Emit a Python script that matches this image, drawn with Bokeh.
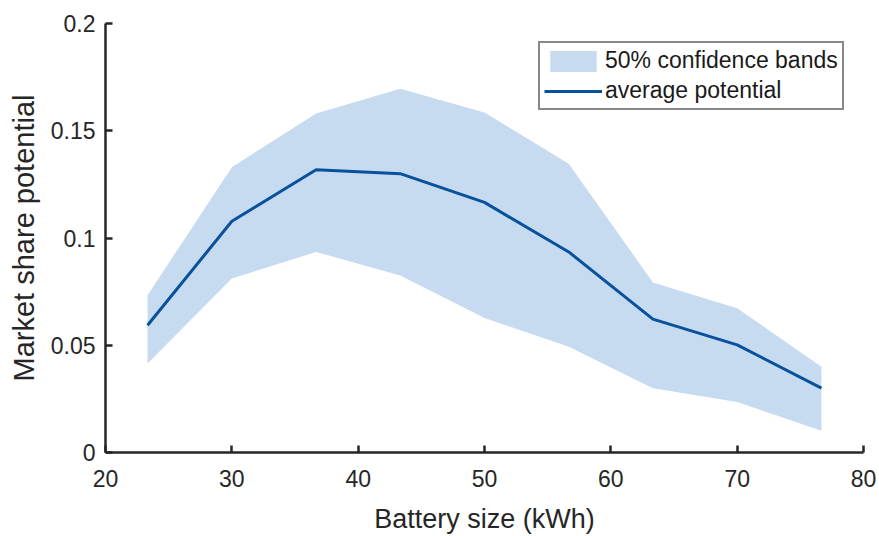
from bokeh.plotting import figure
from bokeh.models import Range1d, FixedTicker, CustomJSTickFormatter, Legend, LegendItem, ColumnDataSource
from bokeh.embed import file_html
from bokeh.resources import INLINE

# Data
battery_kwh = [23.33, 30.0, 36.67, 43.33, 50.0, 56.67, 63.33, 70.0, 76.67]
avg_potential = [0.0593, 0.1078, 0.1318, 0.1300, 0.1166, 0.0935, 0.0622, 0.0502, 0.0300]
band_upper = [0.0733, 0.1330, 0.1580, 0.1696, 0.1585, 0.1346, 0.0793, 0.0673, 0.0400]
band_lower = [0.0415, 0.0811, 0.0935, 0.0825, 0.0627, 0.0493, 0.0300, 0.0235, 0.0101]
x_ticks = [20, 30, 40, 50, 60, 70, 80]
y_ticks = [0, 0.05, 0.1, 0.15, 0.2]

FONT = "Liberation Sans"
TXT = "#262626"

src = ColumnDataSource(dict(x=battery_kwh, y=avg_potential, lo=band_lower, hi=band_upper))

p = figure(width=879, height=536, output_backend="svg", toolbar_location=None,
           x_range=Range1d(20, 80), y_range=Range1d(0, 0.2),
           min_border_left=105, min_border_right=16, min_border_top=23, min_border_bottom=80)

p.background_fill_color = "white"
p.border_fill_color = "white"
p.outline_line_color = None
p.xgrid.visible = False
p.ygrid.visible = False

band = p.varea(x="x", y1="lo", y2="hi", source=src, fill_color="#c6dbef", fill_alpha=1.0)
line = p.line(x="x", y="y", source=src, line_color="#08519c", line_width=3)

for ax in (p.xaxis[0], p.yaxis[0]):
    ax.axis_line_color = TXT
    ax.axis_line_width = 2.5
    ax.major_tick_line_color = TXT
    ax.major_tick_line_width = 2.5
    ax.major_tick_in = 7
    ax.major_tick_out = 0
    ax.minor_tick_line_color = None
    ax.major_label_text_font = FONT
    ax.major_label_text_font_size = "23px"
    ax.major_label_text_color = TXT
    ax.axis_label_text_font = FONT
    ax.axis_label_text_font_style = "normal"
    ax.axis_label_text_color = TXT

p.xaxis.ticker = FixedTicker(ticks=x_ticks)
p.yaxis.ticker = FixedTicker(ticks=y_ticks)
p.yaxis.formatter = CustomJSTickFormatter(code="return (Math.round(tick*100)/100).toString();")

p.xaxis.axis_label = "Battery size (kWh)"
p.xaxis.axis_label_text_font_size = "27px"
p.xaxis.major_label_standoff = 17
p.xaxis.axis_label_standoff = 14

p.yaxis.axis_label = "Market share potential"
p.yaxis.axis_label_text_font_size = "29px"
p.yaxis.major_label_standoff = 10
p.yaxis.axis_label_standoff = 8

legend = Legend(items=[LegendItem(label="50% confidence bands", renderers=[band]),
                       LegendItem(label="average potential", renderers=[line])],
                location=(433, 342), margin=0, padding=4, spacing=3,
                glyph_width=58, glyph_height=26, label_height=24, label_standoff=3,
                label_text_font=FONT, label_text_font_size="23px", label_text_color="#1a1a1a",
                border_line_color="#111111", border_line_width=2.5, background_fill_color="white",
                background_fill_alpha=1.0)
p.add_layout(legend, "center")

open("out.html", "w").write(file_html(p, INLINE))
